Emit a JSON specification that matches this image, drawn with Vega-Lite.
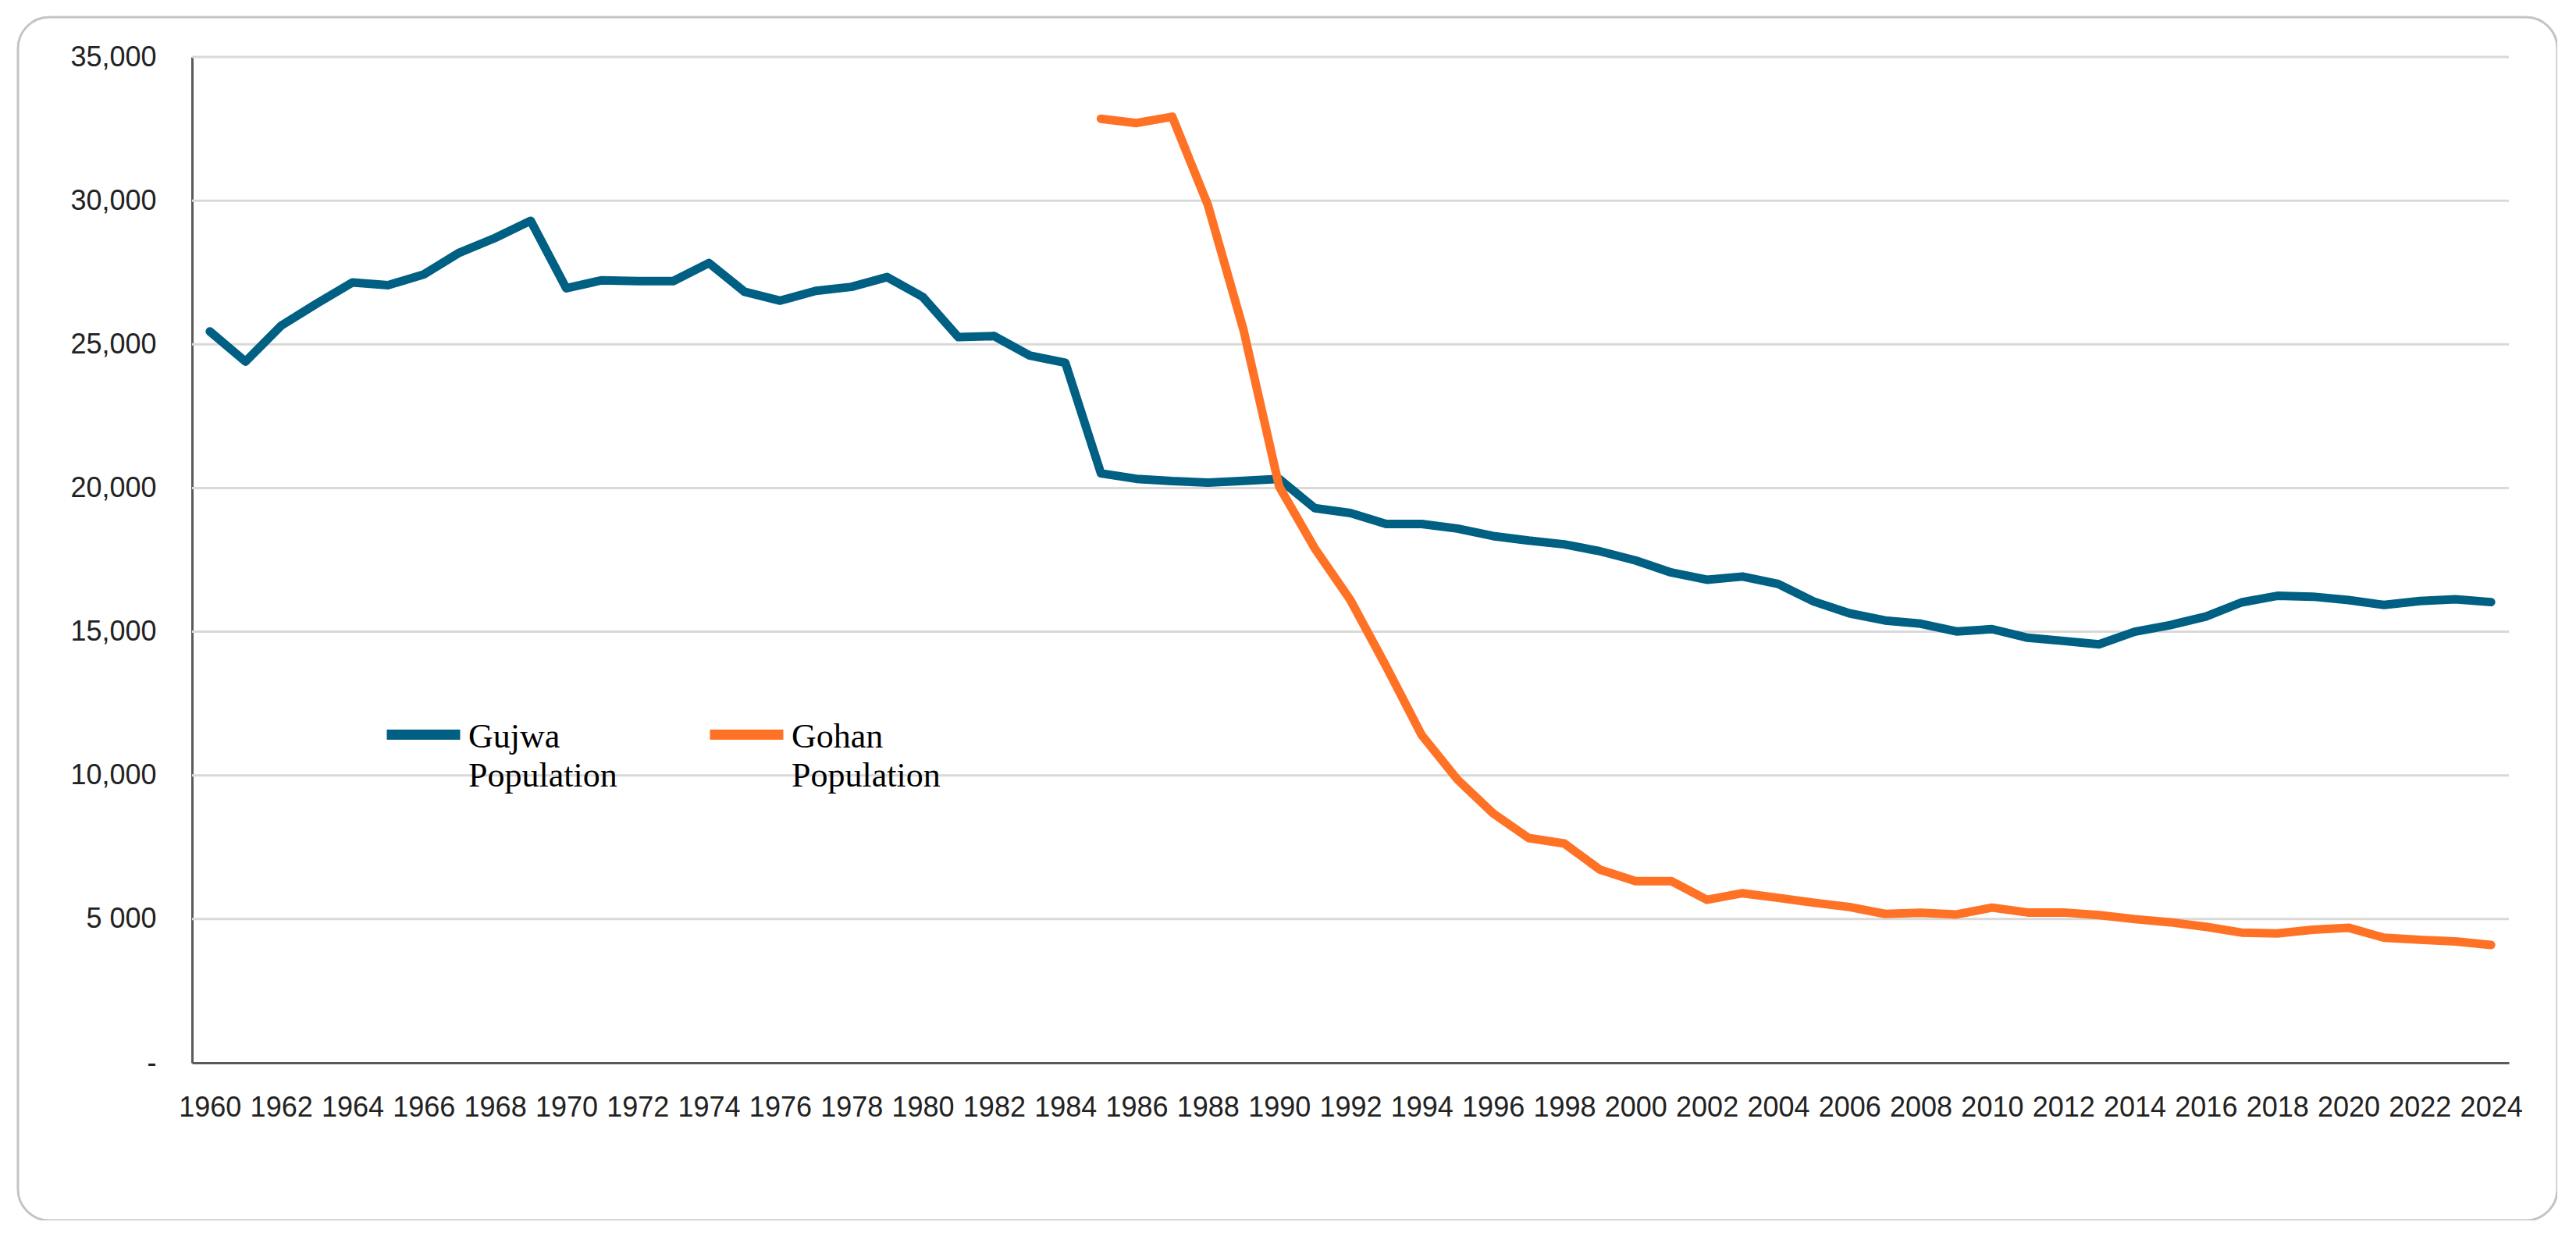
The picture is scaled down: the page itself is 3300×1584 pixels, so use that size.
{
  "$schema": "https://vega.github.io/schema/vega-lite/v6.json",
  "autosize": {"type": "none"},
  "padding": {"left": 23, "top": 22, "right": 0, "bottom": 0},
  "width": 3253,
  "height": 1542,
  "background": "white",
  "config": {
    "view": {"stroke": "#c4c4c4", "strokeWidth": 3, "cornerRadius": 40},
    "style": {"guide-label": {"lineHeight": 50}}
  },
  "datasets": {
    "population": [
      {"year": 1960, "series": "Gujwa Population", "value": 25450},
      {"year": 1961, "series": "Gujwa Population", "value": 24400},
      {"year": 1962, "series": "Gujwa Population", "value": 25650},
      {"year": 1963, "series": "Gujwa Population", "value": 26420},
      {"year": 1964, "series": "Gujwa Population", "value": 27150},
      {"year": 1965, "series": "Gujwa Population", "value": 27060},
      {"year": 1966, "series": "Gujwa Population", "value": 27430},
      {"year": 1967, "series": "Gujwa Population", "value": 28190},
      {"year": 1968, "series": "Gujwa Population", "value": 28700},
      {"year": 1969, "series": "Gujwa Population", "value": 29300},
      {"year": 1970, "series": "Gujwa Population", "value": 26950},
      {"year": 1971, "series": "Gujwa Population", "value": 27230},
      {"year": 1972, "series": "Gujwa Population", "value": 27200},
      {"year": 1973, "series": "Gujwa Population", "value": 27200},
      {"year": 1974, "series": "Gujwa Population", "value": 27830},
      {"year": 1975, "series": "Gujwa Population", "value": 26830},
      {"year": 1976, "series": "Gujwa Population", "value": 26520},
      {"year": 1977, "series": "Gujwa Population", "value": 26860},
      {"year": 1978, "series": "Gujwa Population", "value": 27000},
      {"year": 1979, "series": "Gujwa Population", "value": 27340},
      {"year": 1980, "series": "Gujwa Population", "value": 26650},
      {"year": 1981, "series": "Gujwa Population", "value": 25250},
      {"year": 1982, "series": "Gujwa Population", "value": 25290},
      {"year": 1983, "series": "Gujwa Population", "value": 24610},
      {"year": 1984, "series": "Gujwa Population", "value": 24360},
      {"year": 1985, "series": "Gujwa Population", "value": 20510},
      {"year": 1986, "series": "Gujwa Population", "value": 20320},
      {"year": 1987, "series": "Gujwa Population", "value": 20240},
      {"year": 1988, "series": "Gujwa Population", "value": 20190},
      {"year": 1989, "series": "Gujwa Population", "value": 20250},
      {"year": 1990, "series": "Gujwa Population", "value": 20320},
      {"year": 1991, "series": "Gujwa Population", "value": 19300},
      {"year": 1992, "series": "Gujwa Population", "value": 19130},
      {"year": 1993, "series": "Gujwa Population", "value": 18750},
      {"year": 1994, "series": "Gujwa Population", "value": 18750},
      {"year": 1995, "series": "Gujwa Population", "value": 18590},
      {"year": 1996, "series": "Gujwa Population", "value": 18330},
      {"year": 1997, "series": "Gujwa Population", "value": 18170},
      {"year": 1998, "series": "Gujwa Population", "value": 18040},
      {"year": 1999, "series": "Gujwa Population", "value": 17800},
      {"year": 2000, "series": "Gujwa Population", "value": 17480},
      {"year": 2001, "series": "Gujwa Population", "value": 17060},
      {"year": 2002, "series": "Gujwa Population", "value": 16810},
      {"year": 2003, "series": "Gujwa Population", "value": 16920},
      {"year": 2004, "series": "Gujwa Population", "value": 16660},
      {"year": 2005, "series": "Gujwa Population", "value": 16050},
      {"year": 2006, "series": "Gujwa Population", "value": 15640},
      {"year": 2007, "series": "Gujwa Population", "value": 15390},
      {"year": 2008, "series": "Gujwa Population", "value": 15280},
      {"year": 2009, "series": "Gujwa Population", "value": 15010},
      {"year": 2010, "series": "Gujwa Population", "value": 15090},
      {"year": 2011, "series": "Gujwa Population", "value": 14790},
      {"year": 2012, "series": "Gujwa Population", "value": 14680},
      {"year": 2013, "series": "Gujwa Population", "value": 14560},
      {"year": 2014, "series": "Gujwa Population", "value": 15000},
      {"year": 2015, "series": "Gujwa Population", "value": 15230},
      {"year": 2016, "series": "Gujwa Population", "value": 15530},
      {"year": 2017, "series": "Gujwa Population", "value": 16020},
      {"year": 2018, "series": "Gujwa Population", "value": 16250},
      {"year": 2019, "series": "Gujwa Population", "value": 16220},
      {"year": 2020, "series": "Gujwa Population", "value": 16100},
      {"year": 2021, "series": "Gujwa Population", "value": 15930},
      {"year": 2022, "series": "Gujwa Population", "value": 16070},
      {"year": 2023, "series": "Gujwa Population", "value": 16130},
      {"year": 2024, "series": "Gujwa Population", "value": 16030},
      {"year": 1985, "series": "Gohan Population", "value": 32850},
      {"year": 1986, "series": "Gohan Population", "value": 32700},
      {"year": 1987, "series": "Gohan Population", "value": 32920},
      {"year": 1988, "series": "Gohan Population", "value": 29850},
      {"year": 1989, "series": "Gohan Population", "value": 25500},
      {"year": 1990, "series": "Gohan Population", "value": 20050},
      {"year": 1991, "series": "Gohan Population", "value": 17900},
      {"year": 1992, "series": "Gohan Population", "value": 16100},
      {"year": 1993, "series": "Gohan Population", "value": 13800},
      {"year": 1994, "series": "Gohan Population", "value": 11400},
      {"year": 1995, "series": "Gohan Population", "value": 9860},
      {"year": 1996, "series": "Gohan Population", "value": 8680},
      {"year": 1997, "series": "Gohan Population", "value": 7820},
      {"year": 1998, "series": "Gohan Population", "value": 7630},
      {"year": 1999, "series": "Gohan Population", "value": 6720},
      {"year": 2000, "series": "Gohan Population", "value": 6320},
      {"year": 2001, "series": "Gohan Population", "value": 6320},
      {"year": 2002, "series": "Gohan Population", "value": 5670},
      {"year": 2003, "series": "Gohan Population", "value": 5900},
      {"year": 2004, "series": "Gohan Population", "value": 5740},
      {"year": 2005, "series": "Gohan Population", "value": 5570},
      {"year": 2006, "series": "Gohan Population", "value": 5420},
      {"year": 2007, "series": "Gohan Population", "value": 5180},
      {"year": 2008, "series": "Gohan Population", "value": 5220},
      {"year": 2009, "series": "Gohan Population", "value": 5160},
      {"year": 2010, "series": "Gohan Population", "value": 5400},
      {"year": 2011, "series": "Gohan Population", "value": 5230},
      {"year": 2012, "series": "Gohan Population", "value": 5230},
      {"year": 2013, "series": "Gohan Population", "value": 5140},
      {"year": 2014, "series": "Gohan Population", "value": 5000},
      {"year": 2015, "series": "Gohan Population", "value": 4890},
      {"year": 2016, "series": "Gohan Population", "value": 4730},
      {"year": 2017, "series": "Gohan Population", "value": 4530},
      {"year": 2018, "series": "Gohan Population", "value": 4500},
      {"year": 2019, "series": "Gohan Population", "value": 4630},
      {"year": 2020, "series": "Gohan Population", "value": 4700},
      {"year": 2021, "series": "Gohan Population", "value": 4350},
      {"year": 2022, "series": "Gohan Population", "value": 4280},
      {"year": 2023, "series": "Gohan Population", "value": 4220},
      {"year": 2024, "series": "Gohan Population", "value": 4100}
    ],
    "gridlines": [
      {"level": 5000},
      {"level": 10000},
      {"level": 15000},
      {"level": 20000},
      {"level": 25000},
      {"level": 30000},
      {"level": 35000}
    ]
  },
  "layer": [
    {
      "data": {"name": "gridlines"},
      "mark": {"type": "rule", "color": "#d9d9d9", "strokeWidth": 3},
      "encoding": {
        "y": {"field": "level", "type": "quantitative"},
        "x": {"datum": 1959.5, "type": "quantitative"},
        "x2": {"datum": 2024.5}
      }
    },
    {
      "data": {"name": "population"},
      "mark": {"type": "line", "strokeWidth": 11, "strokeJoin": "round", "strokeCap": "round"},
      "encoding": {
        "x": {
          "field": "year",
          "type": "quantitative",
          "scale": {"domain": [1959.5, 2024.5], "range": [223, 3191], "nice": false, "zero": false},
          "axis": {
            "title": null,
            "values": [1960, 1962, 1964, 1966, 1968, 1970, 1972, 1974, 1976, 1978, 1980, 1982, 1984, 1986, 1988, 1990, 1992, 1994, 1996, 1998, 2000, 2002, 2004, 2006, 2008, 2010, 2012, 2014, 2016, 2018, 2020, 2022, 2024],
            "format": "d",
            "offset": -202,
            "grid": false,
            "ticks": false,
            "tickSize": 0,
            "domainColor": "#5a5a5a",
            "domainWidth": 3,
            "labelFont": "Liberation Sans",
            "labelFontSize": 36,
            "labelColor": "#222222",
            "labelPadding": 40,
            "labelOverlap": false,
            "labelFlush": false
          }
        },
        "y": {
          "field": "value",
          "type": "quantitative",
          "scale": {"domain": [0, 35000], "range": [1340, 51], "nice": false},
          "axis": {
            "title": null,
            "values": [0, 5000, 10000, 15000, 20000, 25000, 30000, 35000],
            "labelExpr": "datum.value == 0 ? '-' : datum.value == 5000 ? '5 000' : format(datum.value, ',')",
            "offset": -223,
            "grid": false,
            "ticks": false,
            "tickSize": 0,
            "domainColor": "#5a5a5a",
            "domainWidth": 3,
            "labelFont": "Liberation Sans",
            "labelFontSize": 36,
            "labelColor": "#222222",
            "labelPadding": 46,
            "labelOverlap": false,
            "labelFlush": false
          }
        },
        "color": {
          "field": "series",
          "type": "nominal",
          "scale": {"domain": ["Gujwa Population", "Gohan Population"], "range": ["#006083", "#ff7226"]},
          "legend": {
            "title": null,
            "orient": "none",
            "direction": "horizontal",
            "legendX": 466,
            "legendY": 869,
            "padding": 0,
            "columnPadding": 92,
            "symbolType": "M-1,-0.07L1,-0.07",
            "symbolSize": 8836,
            "symbolStrokeWidth": 13,
            "labelExpr": "split(datum.label, ' ')",
            "labelFont": "Liberation Serif",
            "labelFontSize": 44,
            "labelColor": "#000000",
            "labelOffset": 4,
            "labelLimit": 500,
            "labelBaseline": "middle"
          }
        }
      }
    }
  ]
}
